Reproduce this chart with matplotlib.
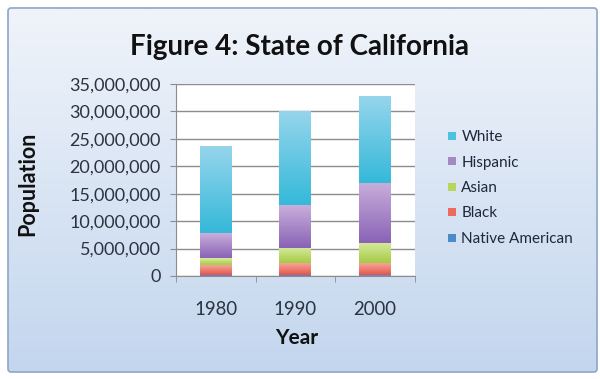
import matplotlib
matplotlib.use("Agg")
import matplotlib.pyplot as plt
import numpy as np
from matplotlib.colors import LinearSegmentedColormap
from matplotlib.patches import FancyBboxPatch
from matplotlib.ticker import FuncFormatter, MultipleLocator
from matplotlib.lines import Line2D

plt.rcParams["font.family"] = ["Lato", "DejaVu Sans"]

years = ["1980", "1990", "2000"]
# stacked from the bottom up
groups = ["Native American", "Black", "Asian", "Hispanic", "White"]
native_american = [200_000, 240_000, 180_000]
black = [1_800_000, 2_090_000, 2_180_000]
asian = [1_250_000, 2_850_000, 3_700_000]
hispanic = [4_500_000, 7_690_000, 10_970_000]
white = [15_850_000, 17_030_000, 15_800_000]
series = [native_american, black, asian, hispanic, white]

# (top, bottom) shades for each stacked segment
shades = {
    "Native American": ("#6f9fd6", "#4a7fc0"),
    "Black": ("#f6a596", "#e4544c"),
    "Asian": ("#d6eb9e", "#a6ca46"),
    "Hispanic": ("#c8aedb", "#8a63b6"),
    "White": ("#95d5ec", "#35b9d9"),
}
legend_colors = {
    "White": "#4bc3df",
    "Hispanic": "#a588c4",
    "Asian": "#b7d65a",
    "Black": "#ec6a5e",
    "Native American": "#4f8ac8",
}

fig = plt.figure(figsize=(6.0, 3.79), dpi=100)
fig.patch.set_facecolor("white")

# background panel with a soft vertical gradient
bg = fig.add_axes([0, 0, 1, 1], zorder=-2)
bg.set_xlim(0, 600)
bg.set_ylim(379, 0)
bg.axis("off")
bg_cmap = LinearSegmentedColormap.from_list("bg", ["#f0f4fa", "#c3d6ee"])
grad = np.linspace(0, 1, 256).reshape(-1, 1)
frame = FancyBboxPatch((8, 8), 589, 364, boxstyle="round,pad=0,rounding_size=3",
                       facecolor="none", edgecolor="#8ea6c6", linewidth=1.2)
bg.add_patch(frame)
img = bg.imshow(grad, cmap=bg_cmap, extent=[8, 597, 372, 8], aspect="auto")
img.set_clip_path(frame)

ax = fig.add_axes([0.2933, 0.2718, 0.398, 0.5066])
ax.set_facecolor("white")
x = np.arange(len(years))
width = 0.4
bottom = np.zeros(len(years))
for name, vals in zip(groups, series):
    vals = np.array(vals, dtype=float)
    bars = ax.bar(x, vals, width, bottom=bottom, color=shades[name][1],
                  linewidth=0, zorder=2)
    cmap = LinearSegmentedColormap.from_list(name, [shades[name][1], shades[name][0]])
    for b in bars:
        x0, y0 = b.get_x(), b.get_y()
        ax.imshow(np.linspace(0, 1, 64).reshape(-1, 1), cmap=cmap, origin="lower",
                  extent=[x0, x0 + b.get_width(), y0, y0 + b.get_height()],
                  aspect="auto", zorder=3)
    bottom += vals

ax.set_xlim(-0.5, 2.5)
ax.set_ylim(0, 35_000_000)
ax.yaxis.set_major_locator(MultipleLocator(5_000_000))
ax.yaxis.set_major_formatter(FuncFormatter(lambda v, p: f"{int(v):,}"))
ax.grid(True, axis="y", color="#8c8c8c", linewidth=1.0, zorder=1)
ax.set_axisbelow(True)
for side in ["top", "right"]:
    ax.spines[side].set_visible(False)
ax.spines["left"].set_color("#8c8c8c")
ax.spines["bottom"].set_color("#8c8c8c")

ax.set_xticks(x)
ax.set_xticklabels(years)
ax.tick_params(axis="x", length=0, pad=18, labelsize=13.4, labelcolor="#2c3340")
ax.set_xticks([-0.5, 0.5, 1.5, 2.5], minor=True)
ax.tick_params(axis="x", which="minor", length=4, color="#8c8c8c")
ax.tick_params(axis="y", length=4, color="#8c8c8c", pad=7, labelsize=13,
               labelcolor="#2c3340")

fig.text(0.5, 1 - 55 / 379, "Figure 4: State of California", ha="center",
         va="baseline", fontsize=20, fontweight="bold", color="#111111")
fig.text(0.495, 1 - 338 / 379, "Year", ha="center", va="center", fontsize=15,
         fontweight="bold", color="#111111")
fig.text(0.047, 1 - 184 / 379, "Population", ha="center", va="center", rotation=90,
         fontsize=15.5, fontweight="bold", color="#111111")

handles = [Line2D([], [], marker="s", linestyle="none", markersize=6,
                  markerfacecolor=legend_colors[g], markeredgewidth=0)
           for g in groups[::-1]]
fig.legend(handles, groups[::-1], loc="upper left", bbox_to_anchor=(0.723, 0.693),
           frameon=False, fontsize=11, handlelength=0.6, handletextpad=0.3,
           labelspacing=0.75, labelcolor="#1f2838")

fig.savefig("out.png", dpi=100)
